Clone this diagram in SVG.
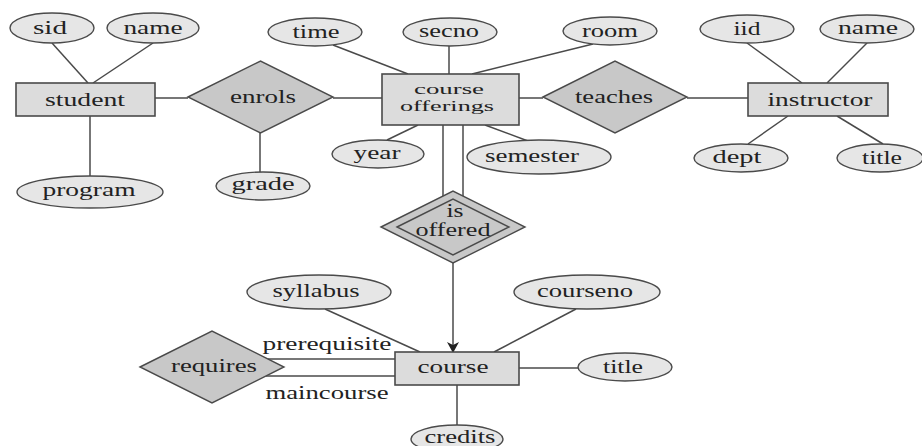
<svg xmlns="http://www.w3.org/2000/svg" width="922" height="446" viewBox="0 0 922 446">
<style>
.bg{fill:#ffffff}
.attr{fill:#e6e6e6;stroke:#4a4a4a;stroke-width:1.4}
.ent{fill:#dcdcdc;stroke:#4a4a4a;stroke-width:1.6}
.rel{fill:#c8c8c8;stroke:#4a4a4a;stroke-width:1.4}
.ln{stroke:#4a4a4a;stroke-width:1.5;fill:none}
.t{font-family:"Liberation Serif","Times New Roman",Tinos,"Noto Serif","DejaVu Serif",FreeSerif,serif;font-size:19px;fill:#222;text-anchor:middle}
.s{font-size:18px}
.xs{font-size:15px}
</style>
<defs>
<marker id="arr" markerWidth="12" markerHeight="14" refX="10" refY="6" orient="auto" markerUnits="userSpaceOnUse">
<path d="M0,0 L11,6 L0,12 L3,6 Z" fill="#222"/>
</marker>
</defs>
<rect class="bg" x="0" y="0" width="922" height="446"/>
<g id="connectors">
<line class="ln" x1="52" y1="43" x2="88" y2="83"/>
<line class="ln" x1="153" y1="43" x2="93" y2="83"/>
<line class="ln" x1="90" y1="116" x2="90" y2="176"/>
<line class="ln" x1="155" y1="98" x2="188" y2="98"/>
<line class="ln" x1="260" y1="133" x2="260" y2="172"/>
<line class="ln" x1="333" y1="98" x2="382" y2="98"/>
<line class="ln" x1="333" y1="45" x2="408" y2="74"/>
<line class="ln" x1="449" y1="46" x2="449" y2="74"/>
<line class="ln" x1="593" y1="44" x2="472" y2="74"/>
<line class="ln" x1="387" y1="140" x2="418" y2="125"/>
<line class="ln" x1="485" y1="125" x2="528" y2="141"/>
<line class="ln" x1="519" y1="98" x2="543" y2="98"/>
<line class="ln" x1="687" y1="98" x2="748" y2="98"/>
<line class="ln" x1="747" y1="43" x2="802" y2="83"/>
<line class="ln" x1="867" y1="43" x2="827" y2="83"/>
<line class="ln" x1="748" y1="144" x2="788" y2="116"/>
<line class="ln" x1="883" y1="144" x2="837" y2="116"/>
<line class="ln" x1="443" y1="125" x2="443" y2="196"/>
<line class="ln" x1="463" y1="125" x2="463" y2="196"/>
<line class="ln" x1="453" y1="263" x2="453" y2="352" marker-end="url(#arr)"/>
<line class="ln" x1="325" y1="309" x2="420" y2="352"/>
<line class="ln" x1="576" y1="309" x2="494" y2="352"/>
<line class="ln" x1="268" y1="359" x2="395" y2="359"/>
<line class="ln" x1="266" y1="376" x2="395" y2="376"/>
<line class="ln" x1="519" y1="368" x2="578" y2="368"/>
<line class="ln" x1="457" y1="385" x2="457" y2="426"/>
<text class="t" x="327" y="350" textLength="129" lengthAdjust="spacingAndGlyphs">prerequisite</text>
<text class="t" x="327" y="399" textLength="123" lengthAdjust="spacingAndGlyphs">maincourse</text>
</g>
<g id="student">
<rect class="ent" x="16" y="83" width="139" height="33"/>
<text class="t" x="85" y="106" textLength="80" lengthAdjust="spacingAndGlyphs">student</text>
</g>
<g id="sid">
<ellipse class="attr" cx="52" cy="28" rx="42" ry="15"/>
<text class="t" x="50" y="34" textLength="34" lengthAdjust="spacingAndGlyphs">sid</text>
</g>
<g id="student-name">
<ellipse class="attr" cx="153" cy="28" rx="46" ry="15"/>
<text class="t" x="153" y="34" textLength="59" lengthAdjust="spacingAndGlyphs">name</text>
</g>
<g id="program">
<ellipse class="attr" cx="90" cy="192" rx="73" ry="16"/>
<text class="t" x="89" y="196" textLength="93" lengthAdjust="spacingAndGlyphs">program</text>
</g>
<g id="enrols">
<polygon class="rel" points="188,97 260.5,61 333,97 260.5,133"/>
<text class="t" x="263" y="103" textLength="66" lengthAdjust="spacingAndGlyphs">enrols</text>
</g>
<g id="grade">
<ellipse class="attr" cx="263" cy="186" rx="47" ry="14"/>
<text class="t" x="263" y="190" textLength="63" lengthAdjust="spacingAndGlyphs">grade</text>
</g>
<g id="time">
<ellipse class="attr" cx="315" cy="32" rx="47" ry="14"/>
<text class="t" x="316" y="38" textLength="47" lengthAdjust="spacingAndGlyphs">time</text>
</g>
<g id="secno">
<ellipse class="attr" cx="450" cy="32" rx="47" ry="14"/>
<text class="t" x="449" y="37" textLength="60" lengthAdjust="spacingAndGlyphs">secno</text>
</g>
<g id="room">
<ellipse class="attr" cx="610" cy="31" rx="47" ry="14"/>
<text class="t" x="610" y="37" textLength="56" lengthAdjust="spacingAndGlyphs">room</text>
</g>
<g id="course-offerings">
<rect class="ent" x="382" y="74" width="137" height="51"/>
<text class="t xs" x="449" y="94" textLength="70" lengthAdjust="spacingAndGlyphs">course</text>
<text class="t xs" x="447" y="111" textLength="94" lengthAdjust="spacingAndGlyphs">offerings</text>
</g>
<g id="year">
<ellipse class="attr" cx="378" cy="154" rx="46" ry="14"/>
<text class="t" x="377" y="159" textLength="47" lengthAdjust="spacingAndGlyphs">year</text>
</g>
<g id="semester">
<ellipse class="attr" cx="539" cy="157" rx="72" ry="17"/>
<text class="t" x="532" y="162" textLength="94" lengthAdjust="spacingAndGlyphs">semester</text>
</g>
<g id="teaches">
<polygon class="rel" points="543,97 615,61 687,97 615,133"/>
<text class="t" x="614" y="103" textLength="78" lengthAdjust="spacingAndGlyphs">teaches</text>
</g>
<g id="instructor">
<rect class="ent" x="748" y="83" width="140" height="33"/>
<text class="t" x="820" y="106" textLength="105" lengthAdjust="spacingAndGlyphs">instructor</text>
</g>
<g id="iid">
<ellipse class="attr" cx="747" cy="29" rx="47" ry="14"/>
<text class="t" x="747" y="35" textLength="27" lengthAdjust="spacingAndGlyphs">iid</text>
</g>
<g id="instructor-name">
<ellipse class="attr" cx="867" cy="29" rx="47" ry="14"/>
<text class="t" x="868" y="34" textLength="60" lengthAdjust="spacingAndGlyphs">name</text>
</g>
<g id="dept">
<ellipse class="attr" cx="741" cy="158" rx="47" ry="14"/>
<text class="t" x="737" y="163" textLength="49" lengthAdjust="spacingAndGlyphs">dept</text>
</g>
<g id="instructor-title">
<ellipse class="attr" cx="880" cy="158" rx="43" ry="14"/>
<text class="t" x="882" y="164" textLength="40" lengthAdjust="spacingAndGlyphs">title</text>
</g>
<g id="is-offered">
<polygon class="rel" points="381,227 453,191 525,227 453,263"/>
<polygon class="rel" points="397,227 453,199 509,227 453,255"/>
<text class="t s" x="455" y="217" textLength="17" lengthAdjust="spacingAndGlyphs">is</text>
<text class="t s" x="453" y="236" textLength="75" lengthAdjust="spacingAndGlyphs">offered</text>
</g>
<g id="course">
<rect class="ent" x="395" y="352" width="124" height="33"/>
<text class="t" x="453" y="373" textLength="71" lengthAdjust="spacingAndGlyphs">course</text>
</g>
<g id="syllabus">
<ellipse class="attr" cx="319" cy="292" rx="72" ry="17"/>
<text class="t" x="316" y="297" textLength="87" lengthAdjust="spacingAndGlyphs">syllabus</text>
</g>
<g id="courseno">
<ellipse class="attr" cx="587" cy="292" rx="73" ry="17"/>
<text class="t" x="585" y="297" textLength="96" lengthAdjust="spacingAndGlyphs">courseno</text>
</g>
<g id="course-title">
<ellipse class="attr" cx="625" cy="367" rx="47" ry="14"/>
<text class="t" x="623" y="373" textLength="40" lengthAdjust="spacingAndGlyphs">title</text>
</g>
<g id="credits">
<ellipse class="attr" cx="457" cy="439" rx="46" ry="14"/>
<text class="t" x="460" y="443" textLength="71" lengthAdjust="spacingAndGlyphs">credits</text>
</g>
<g id="requires">
<polygon class="rel" points="140,367 212,331 284,367 212,403"/>
<text class="t" x="214" y="372" textLength="86" lengthAdjust="spacingAndGlyphs">requires</text>
</g>
</svg>
